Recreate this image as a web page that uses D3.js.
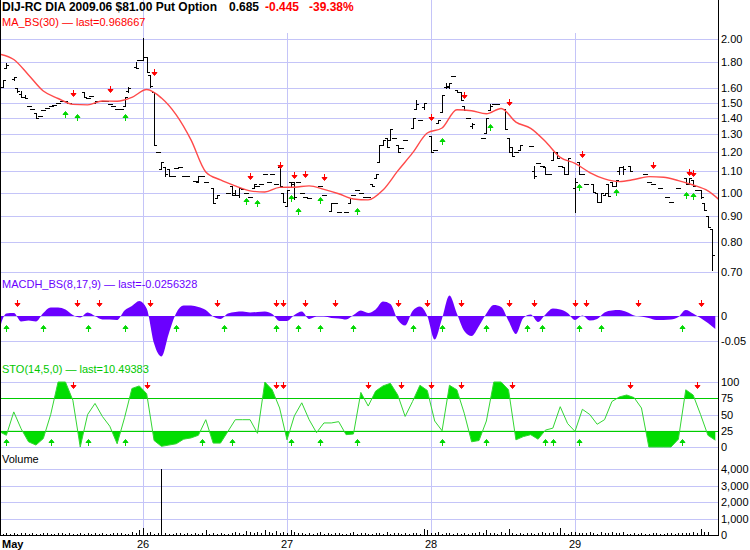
<!DOCTYPE html>
<html>
<head>
<meta charset="utf-8">
<script src="https://cdn.jsdelivr.net/npm/d3@7"></script>
<style>
body { margin: 0; background: #fff; }
svg { display: block; }
text { font-family: "Liberation Sans", Arial, sans-serif; }
</style>
</head>
<body>
<script>
// 10 minute slots, 39 per session, slot 0 = first bar of the "May" session
var dayLabels = ["May", "26", "27", "28", "29"];
var daySlots = [0, 39, 78, 117, 156];

// price bars: [slot, open, high, low, close] or [slot, price] for a single print
var priceBars = [
	[1, 1.61, 1.66, 1.61, 1.66], [2, 1.75, 1.79, 1.75, 1.78], [4, 1.67, 1.68, 1.66, 1.68],
	[5, 1.60, 1.60, 1.57, 1.58], [6, 1.56, 1.58, 1.54, 1.54], [7, 1.54, 1.55, 1.53, 1.53],
	[8, 1.48], [9, 1.46], [10, 1.43, 1.43, 1.40, 1.40], [11, 1.41], [12, 1.45], [13, 1.465],
	[14, 1.475], [15, 1.485], [16, 1.50], [17, 1.51], [18, 1.51], [19, 1.50],
	[23, 1.57, 1.57, 1.54, 1.54], [24, 1.53], [25, 1.545], [26, 1.50, 1.51, 1.50, 1.51],
	[27, 1.51], [28, 1.51], [29, 1.51], [30, 1.49], [31, 1.475], [32, 1.46], [33, 1.455],
	[34, 1.48, 1.54, 1.48, 1.54], [35, 1.58, 1.61, 1.57, 1.60], [37, 1.76, 1.80, 1.75, 1.75],
	[38, 1.82], [39, 1.82, 2.01, 1.82, 1.84], [40, 1.84, 1.84, 1.72, 1.72],
	[41, 1.70, 1.70, 1.61, 1.62], [42, 1.57, 1.57, 1.24, 1.24], [43, 1.20],
	[44, 1.11, 1.15, 1.11, 1.15], [45, 1.12, 1.12, 1.08, 1.09], [46, 1.11, 1.11, 1.08, 1.08],
	[47, 1.08], [48, 1.117], [49, 1.12], [50, 1.08], [51, 1.08], [53, 1.055],
	[54, 1.05, 1.08, 1.05, 1.08], [55, 1.08], [56, 1.05], [58, 1.02, 1.02, 0.955, 0.955],
	[59, 0.975, 0.99, 0.975, 0.99], [62, 1.00], [63, 1.03, 1.03, 0.99, 0.99],
	[64, 1.00, 1.01, 0.99, 0.99], [65, 0.99, 1.02, 0.98, 1.02], [66, 1.015], [67, 1.00],
	[68, 0.98], [69, 1.02, 1.04, 1.02, 1.04], [70, 1.03], [71, 1.04], [72, 1.09], [73, 1.05],
	[74, 1.09], [75, 1.04], [76, 1.12, 1.12, 1.03, 1.03], [77, 1.00, 1.00, 0.96, 0.96],
	[78, 0.94, 1.01, 0.94, 1.01], [79, 1.05, 1.05, 1.03, 1.04], [80, 1.05, 1.05, 0.97, 0.98],
	[81, 1.05], [82, 1.00], [83, 0.98], [84, 0.975], [87, 1.03], [88, 0.99],
	[90, 0.92, 0.955, 0.92, 0.955], [91, 0.955], [92, 0.915], [94, 0.915],
	[95, 0.955, 0.975, 0.955, 0.975], [96, 0.99], [97, 1.01], [98, 1.00], [99, 0.98], [100, 0.98],
	[101, 1.04, 1.04, 1.03, 1.03], [102, 1.07, 1.09, 1.07, 1.09], [103, 1.15, 1.24, 1.15, 1.24],
	[104, 1.24, 1.27, 1.24, 1.27], [105, 1.28, 1.28, 1.23, 1.23], [106, 1.27, 1.33, 1.27, 1.33],
	[107, 1.28], [108, 1.24, 1.24, 1.20, 1.20], [109, 1.22], [110, 1.27],
	[112, 1.34, 1.40, 1.34, 1.40], [113, 1.46, 1.52, 1.46, 1.49], [114, 1.39],
	[115, 1.47, 1.50, 1.46, 1.50], [117, 1.29, 1.29, 1.20, 1.20], [118, 1.21],
	[119, 1.37, 1.39, 1.37, 1.39], [120, 1.44, 1.55, 1.44, 1.55], [121, 1.61, 1.64, 1.60, 1.62],
	[122, 1.61, 1.64, 1.60, 1.64], [123, 1.69], [124, 1.59, 1.59, 1.57, 1.57],
	[125, 1.57, 1.57, 1.52, 1.52], [126, 1.48, 1.48, 1.45, 1.45], [127, 1.40],
	[128, 1.35, 1.37, 1.34, 1.36], [131, 1.28], [132, 1.31, 1.40, 1.31, 1.40],
	[133, 1.45, 1.49, 1.45, 1.48], [134, 1.49], [135, 1.49], [137, 1.46, 1.46, 1.33, 1.33],
	[138, 1.28, 1.28, 1.20, 1.20], [139, 1.23, 1.23, 1.18, 1.18], [140, 1.20],
	[141, 1.21, 1.24, 1.21, 1.24], [144, 1.235], [145, 1.10, 1.13, 1.07, 1.08], [146, 1.145],
	[147, 1.13], [148, 1.12, 1.12, 1.09, 1.09], [149, 1.09], [150, 1.16, 1.20, 1.16, 1.20],
	[151, 1.20, 1.20, 1.17, 1.17], [152, 1.13], [153, 1.12, 1.12, 1.09, 1.09],
	[154, 1.09, 1.17, 1.09, 1.17], [156, 1.02, 1.07, 0.915, 1.05], [157, 1.15, 1.15, 1.09, 1.09],
	[158, 1.09], [159, 1.04], [161, 1.04, 1.04, 1.005, 1.005], [162, 1.00, 1.00, 0.96, 0.96],
	[163, 0.96, 1.00, 0.96, 1.00], [164, 0.99, 1.00, 0.99, 1.00], [165, 1.04, 1.04, 0.985, 0.985],
	[166, 1.05, 1.05, 1.03, 1.03], [167, 1.03, 1.06, 1.03, 1.06], [168, 1.10, 1.12, 1.09, 1.12],
	[169, 1.12, 1.13, 1.09, 1.11], [171, 1.13, 1.13, 1.10, 1.10], [175, 1.09], [176, 1.05],
	[177, 1.04], [179, 1.02], [181, 0.98], [182, 0.96], [184, 1.02],
	[186, 1.07, 1.07, 1.04, 1.04], [187, 1.04, 1.07, 1.04, 1.07], [188, 1.06, 1.06, 1.03, 1.03],
	[189, 1.01], [190, 1.01, 1.01, 0.975, 0.98], [191, 0.955, 0.955, 0.925, 0.925],
	[192, 0.90, 0.90, 0.855, 0.855], [193, 0.85, 0.85, 0.705, 0.755]
];

// MA_BS(30), one value every 4 slots
var maValues = [1.867, 1.821, 1.699, 1.580, 1.528, 1.488, 1.485, 1.511, 1.509, 1.536,
	1.591, 1.531, 1.419, 1.268, 1.098, 1.059, 1.031, 1.008, 1.003, 1.024,
	1.025, 1.031, 1.015, 0.995, 0.972, 0.968, 1.012, 1.103, 1.196, 1.308,
	1.338, 1.453, 1.446, 1.427, 1.461, 1.374, 1.336, 1.259, 1.172, 1.141,
	1.095, 1.064, 1.051, 1.061, 1.075, 1.072, 1.056, 1.035, 1.008, 0.955];

// MACDH_BS(8,17,9), one value every 2 slots
var macdValues = [-0.030, 0.005, 0.006, -0.011, -0.009, -0.011, 0.006, 0.017, 0.017, 0.013,
	0.002, -0.003, 0.007, 0.000, -0.007, -0.007, -0.008, 0.011, 0.020, 0.030,
	0.015, -0.055, -0.081, -0.035, 0.006, 0.021, 0.021, 0.018, 0.012, -0.001,
	-0.006, 0.005, 0.008, 0.009, 0.007, 0.008, 0.009, 0.004, -0.010, -0.010,
	0.002, 0.009, -0.006, -0.001, -0.001, -0.004, -0.005, -0.007, 0.002, 0.011,
	0.006, 0.013, 0.029, 0.024, -0.008, -0.019, 0.010, 0.019, 0.000, -0.047,
	-0.005, 0.041, 0.005, -0.030, -0.040, -0.020, 0.005, 0.022, 0.018, -0.010,
	-0.036, -0.004, 0.003, -0.012, 0.003, 0.015, 0.013, 0.006, -0.008, 0.001,
	-0.009, -0.006, 0.007, 0.011, 0.012, 0.008, 0.001, -0.001, -0.004, -0.008,
	-0.008, -0.007, -0.002, 0.012, 0.005, -0.004, -0.014, -0.026];

// STO(14,5,0), one value every 2 slots
var stoValues = [24, 18, 54, 28, 8, 3, 13, 50, 100, 100,
	72, 0, 50, 67, 47, 32, 5, 45, 90, 94,
	82, 10, 1, 3, 5, 12, 14, 18, 42, 6,
	6, 24, 42, 42, 42, 21, 100, 88, 60, 11,
	48, 68, 42, 22, 37, 37, 39, 19, 20, 84,
	63, 86, 94, 98, 80, 47, 70, 95, 87, 40,
	25, 95, 88, 52, 8, 10, 40, 100, 100, 88,
	11, 16, 19, 12, 26, 29, 62, 36, 24, 58,
	50, 35, 42, 70, 77, 80, 76, 60, 0, 0,
	0, 0, 12, 88, 80, 50, 18, 10.5];

// volume per slot
var volumes = [
	0, 120, 60, 100, 80, 120, 60, 100, 120, 60, 100, 80, 60, 100, 120, 80, 60, 100, 120, 60,
	100, 80, 60, 140, 60, 100, 80, 120, 60, 100, 80, 60, 120, 100, 140, 60, 80, 160, 100,
	300, 420, 120, 200, 80, 100, 4000, 100, 80, 60, 100, 120, 60, 100, 80, 120, 60, 100, 300, 80,
	120, 60, 100, 80, 60, 120, 180, 100, 80, 240, 160, 100, 200, 120, 300, 160, 100, 240, 120,
	200, 120, 300, 160, 100, 140, 80, 120, 60, 100, 160, 80, 120, 60, 140, 100, 80, 60, 120, 160,
	80, 100, 140, 80, 60, 120, 100, 80, 160, 60, 100, 120, 80, 140, 60, 100, 120, 80, 360,
	300, 120, 100, 160, 80, 100, 140, 60, 120, 80, 100, 60, 120, 100, 160, 140, 300, 120, 100, 80,
	160, 120, 360, 100, 80, 120, 60, 100, 140, 80, 120, 160, 100, 140, 200, 120, 420, 100, 80,
	200, 160, 120, 100, 140, 200, 120, 80, 160, 100, 140, 200, 120, 100, 160, 80, 60, 100, 80, 100,
	60, 80, 100, 120, 80, 60, 100, 120, 80, 100, 140, 120, 100, 160, 120, 340, 200, 160
];

// buy / sell signals
var priceSellSlots = [20, 30, 42, 68, 76, 80, 83, 88, 117, 126, 138, 158, 177, 187, 188];
var priceSellLevels = [1.566, 1.594, 1.72, 1.078, 1.133, 1.083, 1.088, 1.073, 1.406, 1.553, 1.504, 1.19, 1.133, 1.098, 1.093];
var priceBuySlots = [18, 21, 34, 67, 70, 79, 81, 87, 97, 120, 133, 157, 167, 186, 188];
var priceBuyLevels = [1.419, 1.40, 1.40, 0.959, 0.950, 0.972, 0.917, 0.963, 0.917, 1.256, 1.339, 1.021, 0.999, 0.985, 0.981];
var macdSellSlots = [5, 21, 27, 41, 59, 75, 77, 83, 91, 108, 116, 125, 138, 145, 156, 159, 173, 190];
var macdBuySlots = [2, 12, 24, 34, 48, 61, 75, 81, 87, 96, 112, 120, 132, 143, 147, 157, 163, 185];
var stoSellSlots = [20, 40, 75, 77, 100, 109, 117, 125, 139, 171, 189];
var stoBuySlots = [2, 14, 24, 34, 55, 63, 79, 87, 97, 120, 132, 148, 150, 157, 185];

var priceTicks = [0.7, 0.8, 0.9, 1.0, 1.1, 1.2, 1.3, 1.4, 1.5, 1.6, 1.8, 2.0];
var macdTicks = [0, -0.05];
var stoTicks = [100, 75, 50, 25, 0];
var volTicks = [4000, 3000, 2000, 1000, 0];

var width = 750, height = 550, plotRight = 718, axisBottom = 536;
var gridColor = "#c4c4f8";
var sellColor = "#ff0000", buyColor = "#00d800";

var x = d3.scaleLinear().domain([0, 195]).range([-1, 719]);
var yPrice = d3.scaleLog().domain([0.7, 2.0]).range([271.9, 38.7]);
var yMacd = d3.scaleLinear().domain([-0.05, 0]).range([341, 316]);
var ySto = d3.scaleLinear().domain([0, 100]).range([447, 382]);
var yVol = d3.scaleLinear().domain([0, 4000]).range([535, 469]);

var svg = d3.select("body").append("svg")
	.attr("width", width)
	.attr("height", height);

var defs = svg.append("defs");
function clip(id, y0, y1) {
	defs.append("clipPath").attr("id", id).append("rect")
		.attr("x", 1).attr("y", y0).attr("width", plotRight - 1).attr("height", y1 - y0);
}
clip("clipPrice", 30, 276);
clip("clipMacd", 292, 364);
clip("clipStoTop", 376, ySto(75));
clip("clipStoBot", ySto(25), 449);
clip("clipSto", 376, 449);
clip("clipVol", 469, 536);

// horizontal grid
function hgrid(scale, ticks, color) {
	svg.append("g").selectAll("line").data(ticks).enter().append("line")
		.attr("x1", 0).attr("x2", plotRight)
		.attr("y1", function (d) { return Math.round(scale(d)) + 0.5; })
		.attr("y2", function (d) { return Math.round(scale(d)) + 0.5; })
		.attr("stroke", color || gridColor);
}
hgrid(yPrice, priceTicks);
hgrid(yMacd, macdTicks);
hgrid(ySto, [100, 50, 0]);
hgrid(yVol, [4000, 3000, 2000, 1000]);

// day separators
svg.append("g").selectAll("line").data(daySlots.slice(1)).enter().append("line")
	.attr("x1", function (d) { return Math.round(x(d)) + 0.5; })
	.attr("x2", function (d) { return Math.round(x(d)) + 0.5; })
	.attr("y1", function (d, i) { return i % 2 ? 33 : 0; })
	.attr("y2", axisBottom)
	.attr("stroke", gridColor);

// ---- price panel
var bars = priceBars.map(function (r) {
	return r.length == 2 ? { s: r[0], o: r[1], h: r[1], l: r[1], c: r[1] }
		: { s: r[0], o: r[1], h: r[2], l: r[3], c: r[4] };
});
var py = function (v) { return Math.round(yPrice(v)); };
svg.append("g")
	.attr("clip-path", "url(#clipPrice)")
	.selectAll("path").data(bars).enter().append("path")
	.attr("fill", "none")
	.attr("stroke", "#000")
	.attr("shape-rendering", "crispEdges")
	.attr("d", function (d) {
		var cx = Math.round(x(d.s)) + 0.5;
		return "M" + cx + "," + py(d.h) + "V" + (py(d.l) + 1) +
			"M" + (cx - 2.5) + "," + (py(d.o) + 0.5) + "H" + cx +
			"M" + cx + "," + (py(d.c) + 0.5) + "H" + (cx + 2.5);
	});

svg.append("path")
	.datum(maValues)
	.attr("clip-path", "url(#clipPrice)")
	.attr("fill", "none")
	.attr("stroke", "#ff4a4a")
	.attr("stroke-width", 1.4)
	.attr("d", d3.line()
		.x(function (d, i) { return x(i * 4); })
		.y(function (d) { return yPrice(d); })
		.curve(d3.curveMonotoneX));

// signal arrows
function arrows(slots, ys, dir, color) {
	svg.append("g").selectAll("path").data(slots).enter().append("path")
		.attr("fill", color)
		.attr("stroke", color)
		.attr("stroke-width", 1)
		.attr("d", function (d, i) {
			var cx = Math.round(x(d)) + 0.5, cy = Math.round(typeof ys == "function" ? ys(i) : ys);
			if (dir > 0) {
				return "M" + cx + "," + (cy - 3) + "V" + (cy + 3) +
					"M" + (cx - 2.5) + "," + (cy + 0.5) + "L" + cx + "," + (cy + 3.5) + "L" + (cx + 2.5) + "," + (cy + 0.5) + "Z";
			}
			return "M" + cx + "," + (cy + 3) + "V" + (cy - 3) +
				"M" + (cx - 2.5) + "," + (cy - 0.5) + "L" + cx + "," + (cy - 3.5) + "L" + (cx + 2.5) + "," + (cy - 0.5) + "Z";
		});
}
arrows(priceSellSlots, function (i) { return yPrice(priceSellLevels[i]); }, 1, sellColor);
arrows(priceBuySlots, function (i) { return yPrice(priceBuyLevels[i]); }, -1, buyColor);

// ---- MACD panel
svg.append("path")
	.datum(macdValues)
	.attr("clip-path", "url(#clipMacd)")
	.attr("fill", "#6a00ff")
	.attr("d", d3.area()
		.x(function (d, i) { return x(i * 2); })
		.y0(yMacd(0))
		.y1(function (d) { return yMacd(d); })
		.curve(d3.curveMonotoneX));
arrows(macdSellSlots, 303, 1, sellColor);
arrows(macdBuySlots, 329, -1, buyColor);

// ---- STO panel
var stoArea = function (base) {
	return d3.area()
		.x(function (d, i) { return x(i * 2); })
		.y0(ySto(base))
		.y1(function (d) { return ySto(d); });
};
svg.append("path").datum(stoValues).attr("clip-path", "url(#clipStoTop)")
	.attr("fill", "#00dd00").attr("d", stoArea(75));
svg.append("path").datum(stoValues).attr("clip-path", "url(#clipStoBot)")
	.attr("fill", "#00dd00").attr("d", stoArea(25));
hgrid(ySto, [75, 25], "#00cc00");
svg.append("path")
	.datum(stoValues)
	.attr("clip-path", "url(#clipSto)")
	.attr("fill", "none")
	.attr("stroke", "#33d633")
	.attr("stroke-width", 1)
	.attr("d", d3.line()
		.x(function (d, i) { return x(i * 2); })
		.y(function (d) { return ySto(d); }));
arrows(stoSellSlots, 385, 1, sellColor);
arrows(stoBuySlots, 443, -1, buyColor);

// ---- volume panel
svg.append("g")
	.attr("clip-path", "url(#clipVol)")
	.selectAll("line").data(volumes).enter().append("line")
	.filter(function (d) { return d > 0; })
	.attr("x1", function (d, i) { return Math.round(x(i)) + 0.5; })
	.attr("x2", function (d, i) { return Math.round(x(i)) + 0.5; })
	.attr("y1", yVol(0))
	.attr("y2", function (d) { return Math.round(yVol(d)); })
	.attr("stroke", "#000")
	.attr("shape-rendering", "crispEdges");

// ---- frame
svg.append("line").attr("x1", 0.5).attr("x2", 0.5).attr("y1", 0).attr("y2", axisBottom).attr("stroke", "#000");
svg.append("line").attr("x1", plotRight + 0.5).attr("x2", plotRight + 0.5).attr("y1", 0).attr("y2", axisBottom).attr("stroke", "#000");
svg.append("line").attr("x1", 0).attr("x2", plotRight + 1).attr("y1", axisBottom - 0.5).attr("y2", axisBottom - 0.5).attr("stroke", "#000");

// ---- right axis labels
function axisLabels(scale, ticks, fmt) {
	svg.append("g").selectAll("text").data(ticks).enter().append("text")
		.attr("x", 721)
		.attr("y", function (d) { return Math.round(scale(d)); })
		.attr("dy", "0.36em")
		.attr("font-size", 11)
		.attr("fill", "#000")
		.text(fmt);
}
axisLabels(yPrice, priceTicks, d3.format(".2f"));
axisLabels(yMacd, macdTicks, function (d) { return d == 0 ? "0" : String(d); });
axisLabels(ySto, stoTicks, String);
axisLabels(yVol, volTicks, d3.format(","));

// ---- date labels
svg.append("g").selectAll("text").data(dayLabels).enter().append("text")
	.attr("x", function (d, i) { return i == 0 ? 2 : x(daySlots[i]); })
	.attr("y", 548)
	.attr("text-anchor", function (d, i) { return i == 0 ? "start" : "middle"; })
	.attr("font-size", 11)
	.attr("font-weight", function (d, i) { return i == 0 ? "bold" : "normal"; })
	.text(function (d) { return d; });

// ---- titles
var title = svg.append("g").attr("font-size", 12).attr("font-weight", "bold");
title.append("text").attr("x", 2).attr("y", 11).text("DIJ-RC DIA 2009.06 $81.00 Put Option");
title.append("text").attr("x", 229).attr("y", 11).text("0.685");
title.append("text").attr("x", 265).attr("y", 11).attr("fill", "#ff0000").text("-0.445");
title.append("text").attr("x", 309).attr("y", 11).attr("fill", "#ff0000").text("-39.38%");

function panelLabel(txt, y, color) {
	svg.append("text").attr("x", 2).attr("y", y).attr("font-size", 11)
		.attr("fill", color).text(txt);
}
panelLabel("MA_BS(30) \u2014 last=0.968667", 26, "#ff0000");
panelLabel("MACDH_BS(8,17,9) \u2014 last=-0.0256328", 288, "#6a00ff");
panelLabel("STO(14,5,0) \u2014 last=10.49383", 373, "#00c800");
panelLabel("Volume", 463, "#000");
</script>
</body>
</html>
